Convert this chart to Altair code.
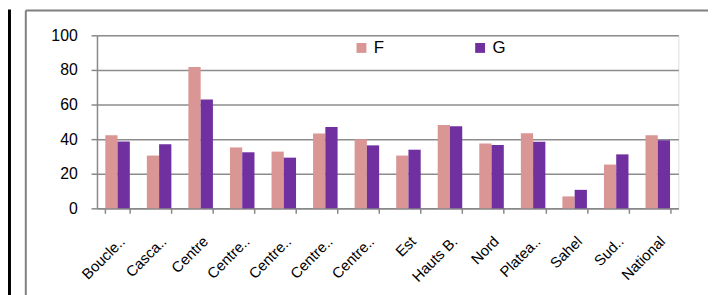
import altair as alt
import pandas as pd

categories = ["Boucle..", "Casca..", "Centre", "Centre..", "Centre..", "Centre.. ", "Centre..  ",
              "Est", "Hauts B.", "Nord", "Platea..", "Sahel", "Sud..", "National"]
cat_ids = [f"c{i}" for i in range(len(categories))]
f_values = [42.3, 30.5, 81.7, 35.2, 32.8, 43.2, 40.0, 30.5, 48.2, 37.5, 43.4, 6.9, 25.3, 42.3]
g_values = [38.7, 37.0, 62.9, 32.4, 29.3, 47.0, 36.4, 33.9, 47.4, 36.6, 38.5, 10.7, 31.2, 39.4]
series = ["F", "G"]
colors = ["#D99694", "#7030A0"]
y_ticks = [0, 20, 40, 60, 80, 100]

rows = []
for cid, f, g in zip(cat_ids, f_values, g_values):
    rows.append({"cat": cid, "series": "F", "value": f})
    rows.append({"cat": cid, "series": "G", "value": g})
df = pd.DataFrame(rows)

label_expr = "{" + ",".join(f"'{c}':'{l}'" for c, l in zip(cat_ids, categories)) + "}[datum.value]"

bars = alt.Chart(df).mark_bar().encode(
    x=alt.X("cat:N", sort=cat_ids, title=None,
            scale=alt.Scale(paddingInner=0.41, paddingOuter=0.2),
            axis=alt.Axis(labelAngle=-45, labelAlign="right", labelBaseline="alphabetic",
                          labelExpr=label_expr, labelFont="Liberation Sans", labelFontSize=15,
                          labelColor="#000", labelPadding=29, labelOffset=8, tickBand="extent",
                          tickSize=5, tickColor="#888888", domainColor="#888888", tickWidth=1.5,
                          domainWidth=1.5, grid=False)),
    xOffset=alt.XOffset("series:N", sort=series),
    y=alt.Y("value:Q", title=None, scale=alt.Scale(domain=[0, 100], nice=False),
            axis=alt.Axis(values=y_ticks, labelFont="Liberation Sans", labelFontSize=16,
                          labelColor="#000", tickSize=6, tickColor="#888888", tickWidth=1.5,
                          domainColor="#888888", domainWidth=1.5, labelPadding=14,
                          gridColor="#8c8c8c", gridWidth=1.5)),
    color=alt.Color("series:N", scale=alt.Scale(domain=series, range=colors),
                    legend=alt.Legend(title=None, orient="none", direction="horizontal",
                                      legendX=259, legendY=4, symbolType="square",
                                      symbolSize=100, symbolStrokeWidth=0,
                                      labelFont="Liberation Sans", labelFontSize=17,
                                      labelColor="#000", columnPadding=88, labelOffset=4)),
)

frame_black = alt.Chart(pd.DataFrame({"a": [0]})).mark_rule(color="#000", strokeWidth=3).encode(
    x=alt.value(-88.5), y=alt.value(-26), y2=alt.value(265))
frame_gray_v = alt.Chart(pd.DataFrame({"a": [0]})).mark_rule(color="#808080", strokeWidth=2).encode(
    x=alt.value(-72), y=alt.value(-25), y2=alt.value(265))
frame_gray_h = alt.Chart(pd.DataFrame({"a": [0]})).mark_rule(color="#808080", strokeWidth=2).encode(
    x=alt.value(-72), x2=alt.value(660), y=alt.value(-25))

chart = alt.layer(bars, frame_black, frame_gray_v, frame_gray_h).properties(
    width=588, height=175,
    autosize=alt.AutoSizeParams(type="none"),
    padding={"left": 90, "top": 26, "right": 30, "bottom": 86},
).configure_view(stroke=None).configure(background="white")

chart.save("out.html", embed_options={"renderer": "svg", "actions": False})
